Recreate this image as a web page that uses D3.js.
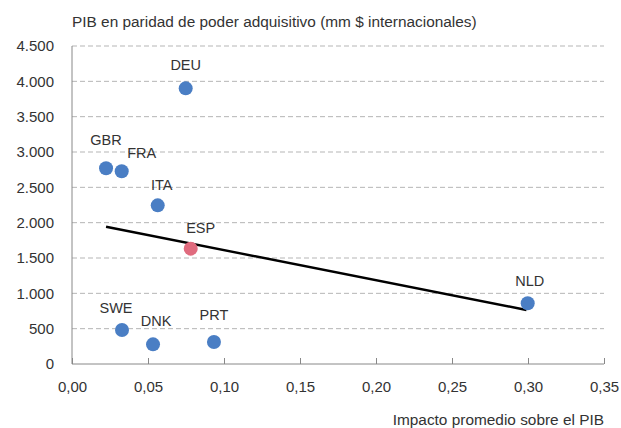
<!DOCTYPE html>
<html>
<head>
<meta charset="utf-8">
<script src="https://cdn.jsdelivr.net/npm/d3@7"></script>
<style>
  body { margin: 0; background: #fff; }
  text { font-family: "Liberation Sans", Arial, sans-serif; fill: #333; }
  .axis path, .axis line { stroke: #888; }
  .grid line { stroke: #b5b5b5; stroke-dasharray: 5,3; }
</style>
</head>
<body>
<div id="chart"></div>
<script>
// data
var countries = ["GBR", "FRA", "ITA", "ESP", "SWE", "DNK", "PRT", "DEU", "NLD"];
var impacto   = [0.0224, 0.0327, 0.0564, 0.0781, 0.0329, 0.0533, 0.0934, 0.0748, 0.2998];
var pib       = [2769, 2727, 2245, 1632, 481, 278, 311, 3901, 859];
var trendX    = [0.0224, 0.299];
var trendY    = [1943, 764];
var xTicks    = [0, 0.05, 0.10, 0.15, 0.20, 0.25, 0.30, 0.35];
var yTicks    = [0, 500, 1000, 1500, 2000, 2500, 3000, 3500, 4000, 4500];

// label placement relative to each dot (dx, dy)
var labelOffset = {
  GBR: [0, -23], FRA: [20, -13], ITA: [4, -15], ESP: [10, -16],
  SWE: [-6, -17], DNK: [3, -18], PRT: [0, -22], DEU: [0, -18], NLD: [2, -17]
};

var W = 621, H = 428;
var margin = {top: 46, right: 17, bottom: 64, left: 72};
var width = W - margin.left - margin.right,
    height = H - margin.top - margin.bottom;

var svg = d3.select("#chart").append("svg")
    .attr("width", W)
    .attr("height", H);

var g = svg.append("g")
    .attr("transform", "translate(" + margin.left + "," + margin.top + ")");

var xScale = d3.scaleLinear().domain([0, 0.35]).range([0, width]);
var yScale = d3.scaleLinear().domain([0, 4500]).range([height, 0]);

var fmtX = function(d) { return d3.format(".2f")(d).replace(".", ","); };
var fmtY = function(d) { return d3.format(",")(d).replace(/,/g, "."); };

// dashed gridlines
g.append("g")
  .attr("class", "grid")
  .selectAll("line")
  .data(yTicks.filter(function(d) { return d > 0; }))
  .enter().append("line")
  .attr("x1", 0)
  .attr("x2", width)
  .attr("y1", function(d) { return yScale(d); })
  .attr("y2", function(d) { return yScale(d); });

// axes
var xAxis = d3.axisTop(xScale)
    .tickValues(xTicks)
    .tickSize(6)
    .tickSizeOuter(0)
    .tickFormat(fmtX);

var yAxis = d3.axisLeft(yScale)
    .tickValues(yTicks)
    .tickSize(0)
    .tickPadding(18)
    .tickFormat(fmtY);

var gx = g.append("g")
  .attr("class", "x axis")
  .attr("transform", "translate(0," + height + ")")
  .call(xAxis);
gx.selectAll("text")
  .attr("y", 17)
  .attr("dy", "0.71em")
  .style("font-size", "15px");
gx.select(".domain").attr("d", "M0,0H" + width);

var gy = g.append("g")
  .attr("class", "y axis")
  .call(yAxis);
gy.selectAll("text").style("font-size", "15px");
gy.select(".domain").attr("d", "M0,0V" + height);

// trend line
g.append("line")
  .attr("x1", xScale(trendX[0]))
  .attr("y1", yScale(trendY[0]))
  .attr("x2", xScale(trendX[1]))
  .attr("y2", yScale(trendY[1]))
  .attr("stroke", "#000")
  .attr("stroke-width", 2.5);

var points = countries.map(function(c, i) {
  return {country: c, x: impacto[i], y: pib[i]};
});

g.selectAll(".dot")
  .data(points)
  .enter().append("circle")
  .attr("class", "dot")
  .attr("cx", function(d) { return xScale(d.x); })
  .attr("cy", function(d) { return yScale(d.y); })
  .attr("r", 7)
  .style("fill", function(d) { return d.country == "ESP" ? "#e06b7e" : "#4a7ec4"; });

g.selectAll(".lbl")
  .data(points)
  .enter().append("text")
  .attr("class", "lbl")
  .attr("x", function(d) { return xScale(d.x) + labelOffset[d.country][0]; })
  .attr("y", function(d) { return yScale(d.y) + labelOffset[d.country][1]; })
  .attr("text-anchor", "middle")
  .style("font-size", "14.5px")
  .text(function(d) { return d.country; });

// titles
svg.append("text")
  .attr("x", margin.left)
  .attr("y", 27)
  .style("font-size", "15.4px")
  .text("PIB en paridad de poder adquisitivo (mm $ internacionales)");

svg.append("text")
  .attr("x", margin.left + width)
  .attr("y", 425)
  .attr("text-anchor", "end")
  .style("font-size", "15.4px")
  .text("Impacto promedio sobre el PIB");
</script>
</body>
</html>
